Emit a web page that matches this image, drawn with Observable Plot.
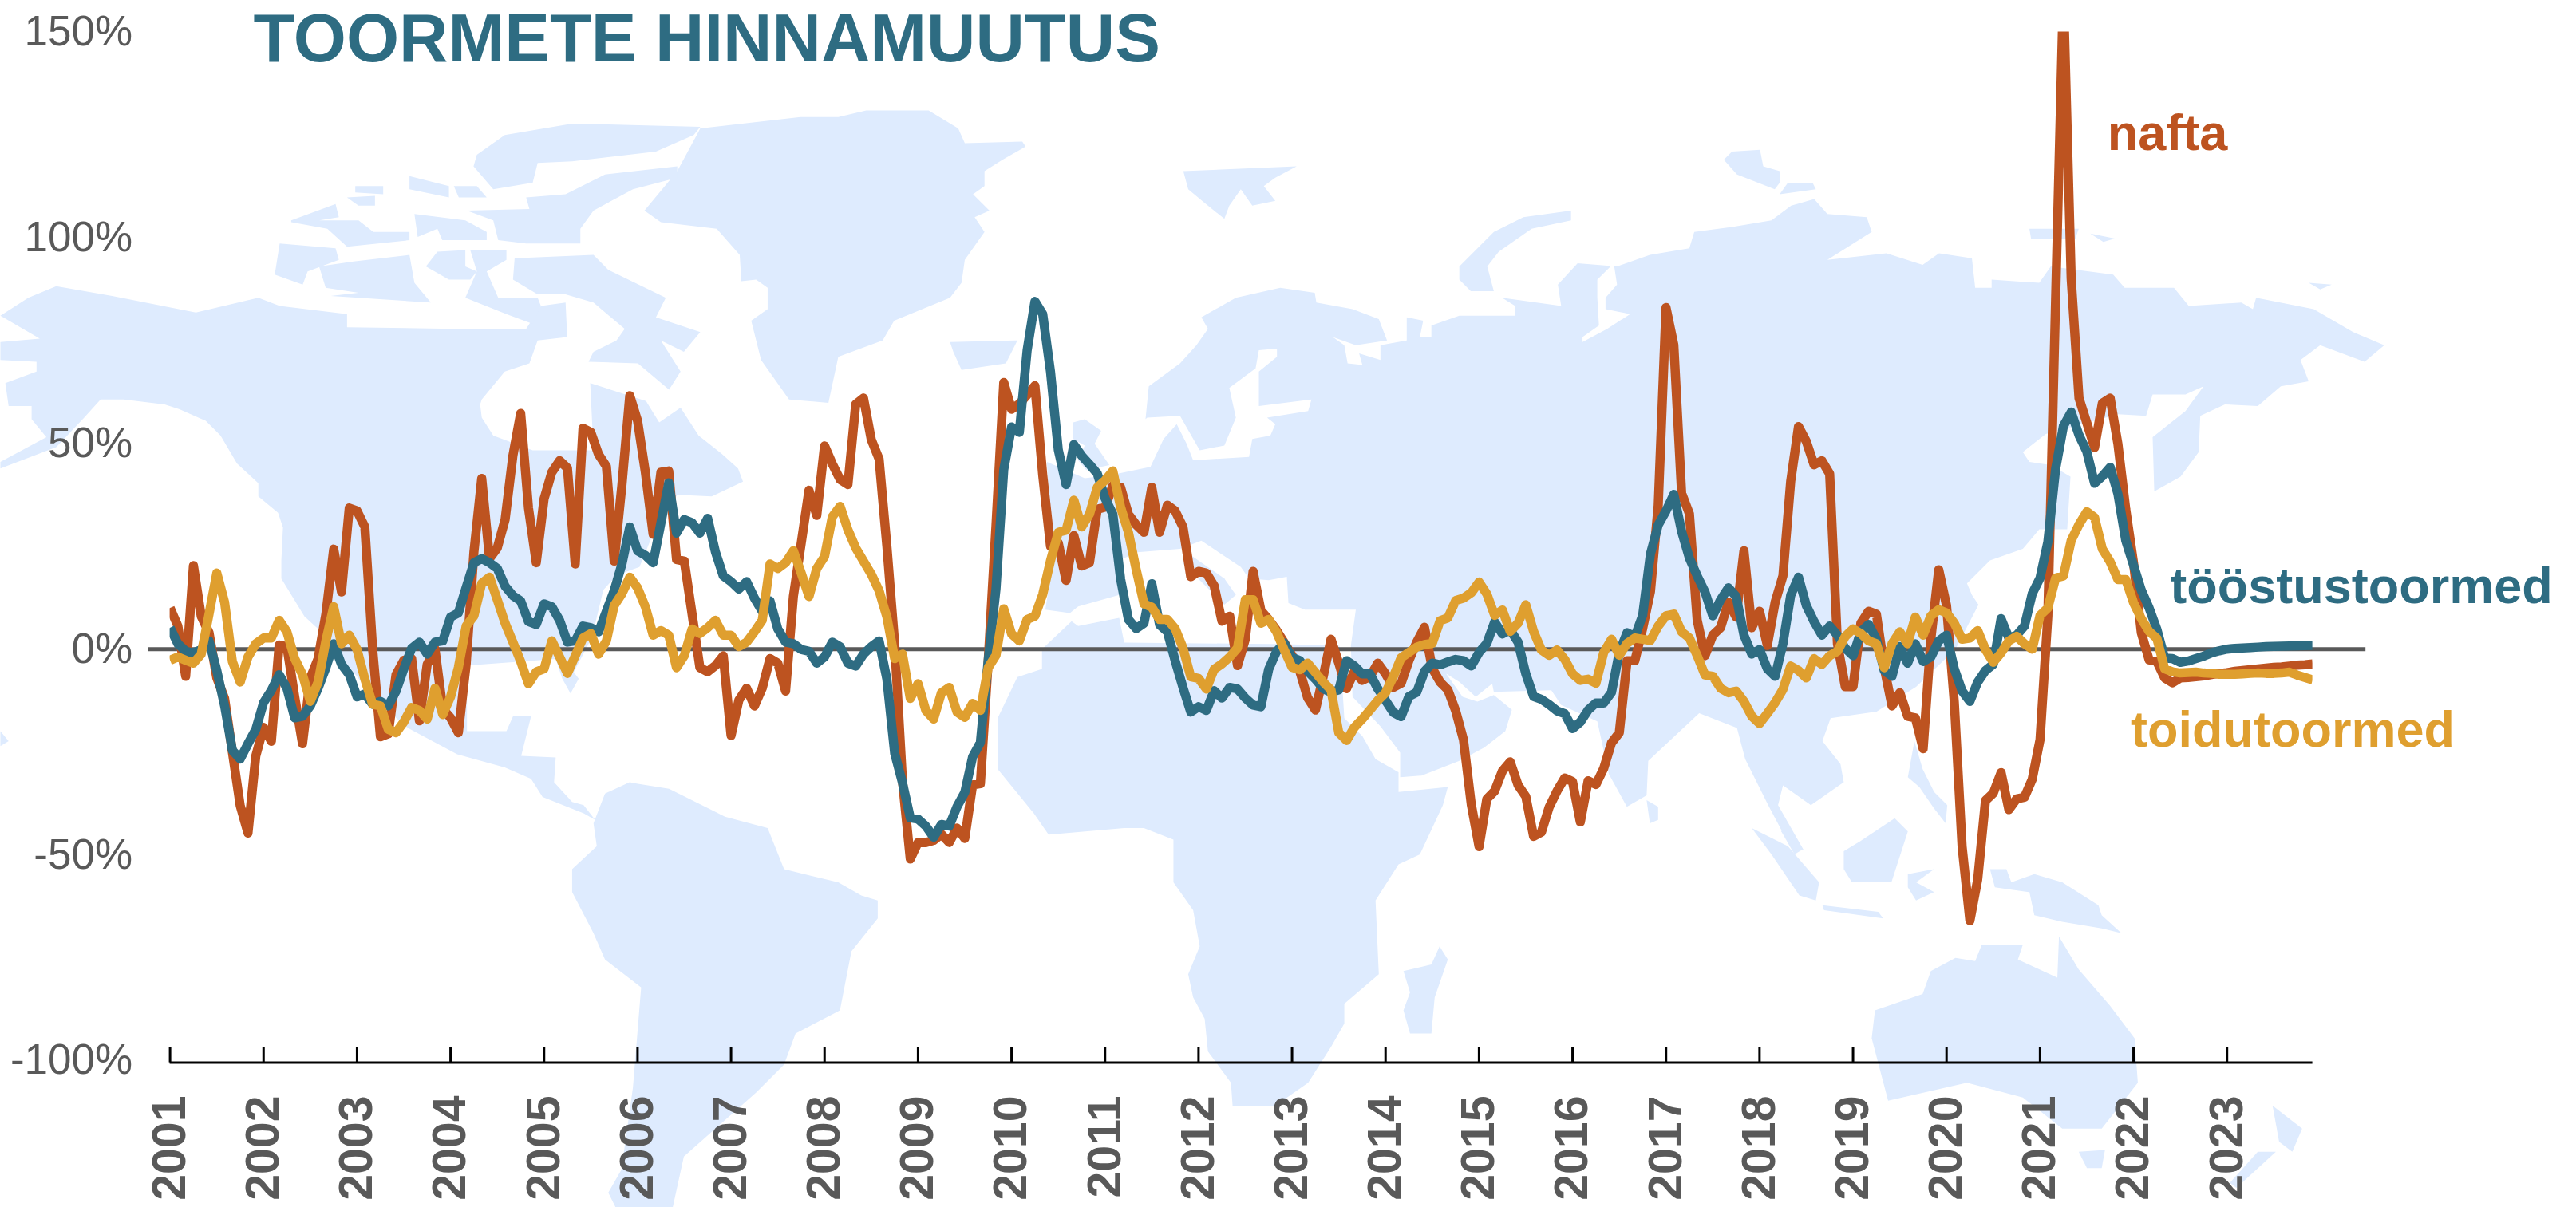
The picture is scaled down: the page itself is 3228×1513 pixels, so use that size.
<!DOCTYPE html>
<html lang="et">
<head>
<meta charset="utf-8">
<title>Toormete hinnamuutus</title>
<script src="https://cdn.jsdelivr.net/npm/d3@7"></script>
<script src="https://cdn.jsdelivr.net/npm/@observablehq/plot@0.6"></script>
<style>html,body{margin:0;padding:0;background:#fff}</style>
</head>
<body>
<div id="chart"></div>
<script>
const title = "TOORMETE HINNAMUUTUS";
const years = d3.range(2001, 2024);
const yTicks = [-100, -50, 0, 50, 100, 150];

const nafta = [
10,5.6,-6.6,20.3,8,4,-7,-12,-25,-38,-44.7,-26,
-19,-22.4,1,0.6,-11.6,-23,-7,-2.3,8.5,24.3,13.9,34.3,
33.6,29.7,0,-21.3,-20.6,-6.2,-2.7,-2.3,-17.4,-3.7,0,-14.5,
-16.7,-20.3,-3.7,23.6,41.5,22,24.6,31.5,47,57.3,34.3,21,
36.5,43,45.8,44,20.7,53.7,52.7,47.3,44.4,21.4,40,61.6,
55.5,43,27.9,43,43.3,21.8,21.4,8.5,-4.5,-5.5,-4,-1.6,
-21,-12.4,-9.5,-13.8,-9.5,-2.3,-3.4,-10.2,12.8,25.7,38.6,32.5,
49.4,45,41.2,40,59.5,61,50.9,46.2,25,1.3,-32,-51,
-47,-47,-46.5,-45,-47,-43.5,-46,-33,-32.7,-3,30,64.8,
58.3,59.6,61.8,64,42.3,25,25.8,16.7,27.6,20.2,21,34,
34.5,39.7,39.3,32.8,30.2,28.4,39.3,28.4,35,33.6,29.7,17.6,
18.9,18.5,15.4,6.8,8,-4,2.4,18.9,9.4,7.2,4.6,1.6,
-1.5,-5.4,-11.8,-14.8,-6.7,2.4,-3.4,-9.6,-5.4,-7.6,-6.7,-3.4,
-6,-9.3,-8.3,-2.8,1.7,5.3,-4.7,-8,-9.9,-15,-22,-37.7,
-48,-36.4,-34.5,-29.6,-27.4,-33,-35.8,-45.5,-44.5,-38.4,-34.5,-31.3,
-32.2,-42,-32,-32.9,-29,-22.8,-20.3,-2.8,-2.8,5,14,35,
83,73.9,37.9,32.9,7,-1.6,3.4,5.2,11.4,7.8,23.9,5.2,
9.2,0.9,11.4,17.8,40.8,54.1,50.5,44.8,45.8,42.6,1.3,-9.1,
-9.1,6.3,9.2,8.5,-4.5,-13.8,-10.6,-16.3,-16.7,-24.2,2.7,19.3,
10.6,-13,-48,-66,-56,-36.8,-35,-30,-39,-36.4,-36,-31.6,
-22,8,85,160,90,61,55,49,59.8,61,49.8,34,
21,4,-2.6,-3,-7,-8.2,-7,-6.9,-6.7,-6.5,-6.2,-5.9,
-5.7,-5.4,-5.2,-5,-4.8,-4.6,-4.4,-4.3,-4.1,-3.9,-3.8,-3.6];

const toostus = [
5.2,1.3,-0.5,-0.9,-0.1,2,-5.2,-13.8,-24.6,-26.7,-23,-19.5,
-13,-10,-6.2,-9.5,-16.7,-16.3,-13.8,-9.5,-4.5,1.3,-3.7,-6.2,
-11.6,-10.9,-13.4,-12.7,-13.8,-10.2,-4.8,0.2,1.7,-1.2,1.7,2,
7.8,8.8,15,21,22,21,19.6,15.3,13,11.7,6.7,6,
11,10.3,7,1.7,2,5.6,5.2,4.2,9.2,14.2,20.7,29.7,
23.9,22.8,21,30.7,40.4,28.2,31.5,30.7,28.2,31.8,23.6,17.8,
16.4,14.6,16.4,12.4,9.2,11.7,4.9,1.7,1.3,-0.1,-0.5,-3.4,
-1.9,1.7,0.6,-3.4,-4.1,-1.2,0.6,2,-7.3,-25.3,-32.5,-41,
-41.3,-43,-45.7,-42.6,-43,-38.3,-34.8,-26.2,-22.7,-2.8,14.6,43.6,
54,52.7,72.6,84.5,81.4,67.4,48.4,40,49.7,47,44.9,42.7,
36.7,32.8,17,7.2,5,6.3,15.9,5.9,4.2,-2.8,-9.3,-15.3,
-14,-14.9,-10.1,-11.9,-9.3,-9.7,-11.9,-13.6,-14,-4.9,-0.6,1.5,
-2,-2.8,-5.4,-7.3,-9.6,-10.5,-9.9,-2.8,-4.1,-6,-6,-9.6,
-12.5,-15.4,-16.4,-11.5,-10.5,-5.4,-3.4,-3.8,-3.1,-2.5,-2.8,-4.1,
-0.8,1.4,6.6,3.7,4.7,1.7,-6,-11.5,-12.2,-13.5,-15,-15.7,
-19.3,-17.7,-14.8,-13.1,-13.1,-10.5,-0.8,4,3,8.2,23.1,30.2,
33.6,37.6,28.6,22.1,17.8,13.9,8.1,12,14.9,12.8,3.4,-1.2,
-0.1,-4.8,-6.6,1.3,13.1,17.5,10.6,6.7,3.4,5.6,3.4,0.2,
-1.6,4.2,6,2.4,-5.2,-6.6,0.6,-3.4,1.3,-3,-1.9,2,
3.4,-4.8,-10.2,-12.7,-8,-5.2,-3.7,7.4,2.7,3.4,5.6,13.5,
17.3,26,43.8,54.2,57.6,52,48,40.3,42,44.2,37.7,26.4,
20.4,14.3,10,4.8,-2.2,-2.3,-3.2,-2.9,-2.3,-1.7,-0.9,-0.4,
0,0.2,0.3,0.4,0.5,0.6,0.65,0.7,0.75,0.8,0.85,0.9];

const toit = [
-2.7,-1.9,-2.7,-3.4,-1.2,8.5,18.5,11.4,-3,-8,-1.9,1.3,
2.7,2.7,7,4.2,-2.3,-6.2,-12.7,-8,2,10.3,1.3,3.4,
-0.1,-7.3,-13.4,-13.8,-19.5,-20.3,-17.7,-14.2,-14.9,-17,-9.5,-15.9,
-11.6,-4.5,5.6,8.1,16,17.5,12,6.3,1.7,-3,-8.4,-5.5,
-4.8,2,-1.9,-5.9,-1.6,2.7,3.8,-1.2,2,10.6,13.5,17.5,
14.9,10.3,3.4,4.5,3.4,-4.5,-1.6,4.9,3.8,5.2,7,3.4,
3.4,0.6,1.7,4.2,7,20.7,19.6,21,23.9,18.5,12.8,19.6,
22.5,32.2,34.7,29,24.6,21.4,18.2,14.2,7.8,-2.3,-1.2,-12,
-8.4,-14.9,-17,-10.6,-9.3,-15.3,-16.6,-13.2,-14.9,-4.5,-1.5,9.8,
3.7,2,7.2,8,13.3,21.5,28.4,28.9,36.2,29.7,32.8,39.3,
41,43.3,34.5,28.4,19.3,11,10.2,7.2,7.2,5,0.3,-6.7,
-7.1,-9.7,-4.9,-3.6,-1.9,0.3,12,12,6.3,7.2,4.2,-0.2,
-4.4,-5,-3.4,-5.7,-8,-9.9,-20.3,-22.2,-19,-17,-14.8,-12.5,
-10.6,-6.7,-2.1,-0.8,0.5,1.1,1.4,6.9,7.6,11.8,12.4,13.7,
16.3,13.4,8.2,9.5,4.3,6.3,10.8,4.3,-0.2,-1.5,-0.2,-2.5,
-6,-7.6,-7.3,-8.3,-0.8,2.4,-1.5,1.4,2.7,2.4,2.1,5.6,
8.1,8.5,4.2,2.7,-1.6,-6.3,-6.6,-9.5,-10.6,-10.2,-12.7,-16.3,
-18.1,-15.6,-13,-9.8,-4.1,-5.2,-7,-2.3,-3.7,-1.6,-0.5,3.1,
4.9,3.8,2,1.3,-4.5,1.3,4.2,1.3,7.8,3.4,8.1,9.6,
8.8,6.3,2.4,2.7,4.5,-0.1,-3.2,-0.9,2,3.1,1.3,0,
8.2,10,17.3,17.8,26.4,30.3,33.4,32,24.3,21.2,16.9,16.9,
11.3,7.4,4.3,2.6,-4.8,-5.5,-5.8,-5.7,-5.6,-5.8,-5.9,-6.1,
-6.1,-6.1,-6,-5.9,-5.8,-5.9,-5.9,-5.8,-5.6,-6.3,-6.9,-7.5];

// Background world map outlines, traced on a 1568 x 735 grid
const namerica = [[0,192],[17,181],[34,174],[68,180],[119,190],[157,181],[170,186],[211,191],[211,199],[276,200],[320,200],[329,186],[344,184],[345,205],[327,207],[322,221],[307,226],[293,243],[292,246],[293,254],[300,265],[324,274],[361,274],[359,233],[393,244],[401,257],[414,248],[425,265],[439,276],[449,285],[452,293],[433,302],[412,301],[400,318],[389,345],[375,350],[367,359],[360,388],[349,409],[352,413],[347,422],[342,413],[338,401],[284,405],[284,445],[308,445],[312,436],[323,436],[317,460],[338,461],[337,476],[348,488],[355,490],[362,499],[355,495],[330,485],[323,474],[307,467],[278,459],[248,443],[229,427],[197,386],[185,375],[171,352],[171,341],[172,321],[169,312],[157,302],[157,294],[144,282],[134,265],[125,256],[109,249],[100,246],[75,243],[61,243],[51,254],[34,272],[0,285],[0,281],[28,266],[19,255],[19,247],[5,247],[3,233],[22,226],[22,220],[0,219],[0,208],[24,206]];
const samerica = [[361,501],[368,483],[383,476],[388,477],[407,480],[441,497],[467,504],[477,529],[510,537],[524,545],[534,548],[534,559],[518,579],[511,615],[484,629],[477,648],[460,665],[416,704],[409,736],[375,736],[370,726],[378,712],[385,662],[390,601],[368,584],[361,568],[348,543],[348,529],[363,515]];
const greenland = [[392,128],[412,104],[426,78],[487,71],[510,71],[527,67],[565,67],[583,78],[587,87],[622,86],[624,89],[610,97],[599,104],[599,113],[592,118],[602,128],[593,132],[599,141],[587,158],[585,172],[578,181],[544,195],[537,207],[510,217],[504,245],[480,243],[463,219],[457,195],[467,188],[467,175],[460,170],[451,171],[450,155],[436,139],[402,135]];
const baffin = [[313,157],[361,155],[370,164],[405,181],[399,193],[426,202],[416,214],[402,207],[414,226],[407,237],[388,221],[358,220],[361,214],[375,207],[380,200],[361,184],[344,179],[327,179],[312,170]];
const ellesmere = [[290,94],[307,82],[348,75],[426,77],[422,82],[399,92],[348,98],[327,99],[324,111],[300,115],[288,101]];
const devon = [[368,106],[412,101],[412,108],[385,115],[361,128],[353,139],[353,148],[320,148],[303,146],[300,134],[284,128],[322,127],[320,120],[344,118]];
const arcticA = [[249,107],[273,113],[273,120],[249,115]];
const arcticB = [[276,113],[290,113],[296,120],[279,120]];
const arcticC = [[216,113],[233,113],[233,118],[216,117]];
const arcticD = [[211,120],[228,119],[228,125],[218,125]];
const arcticE = [[177,134],[204,124],[206,132],[194,134],[218,134],[227,141],[249,141],[249,146],[211,150],[199,139],[177,135]];
const arcticF = [[252,130],[283,134],[296,141],[296,146],[269,146],[266,139],[254,144]];
const banks = [[170,148],[204,151],[206,158],[187,165],[184,173],[167,167]];
const victoria = [[194,162],[215,159],[249,155],[252,172],[262,184],[218,181],[201,180],[218,178],[198,175]];
const arcticG = [[266,153],[283,152],[283,162],[290,165],[286,170],[273,170],[259,162]];
const arcticH = [[286,152],[308,152],[308,158],[296,165],[303,181],[327,181],[329,186],[324,197],[308,191],[283,181],[290,165]];
const iceland = [[578,208],[619,207],[612,221],[585,225],[580,214]];
const britain = [[653,257],[660,255],[670,262],[666,270],[675,283],[661,286],[656,280],[660,271],[653,267]];
const svalbard = [[720,104],[789,101],[776,108],[769,113],[776,122],[762,125],[755,115],[748,125],[745,133],[735,125],[723,115]];
const novaya = [[956,128],[956,134],[932,139],[912,153],[905,162],[909,177],[895,177],[888,170],[888,162],[909,141],[927,132]];
const severnaya = [[1049,97],[1054,92],[1071,91],[1073,101],[1083,104],[1083,111],[1080,115],[1057,106]];
const severnayaB = [[1088,111],[1103,111],[1105,115],[1083,118]];
const siberianA = [[1235,139],[1265,139],[1263,145],[1236,145]];
const siberianB = [[1272,142],[1287,145],[1280,147]];
const wrangel = [[1405,172],[1419,173],[1412,176]];
const eurasia = [[637,281],[660,291],[676,289],[700,284],[708,267],[716,258],[722,270],[726,280],[760,278],[762,267],[773,265],[776,258],[771,254],[796,250],[798,243],[766,247],[766,226],[777,217],[777,212],[766,213],[764,224],[748,236],[752,254],[745,271],[730,274],[718,253],[698,254],[697,255],[699,235],[718,221],[728,210],[735,200],[731,193],[752,181],[779,175],[800,178],[801,184],[823,188],[839,194],[844,207],[825,210],[811,205],[818,210],[820,221],[829,222],[827,215],[840,219],[840,210],[856,207],[856,193],[866,195],[864,205],[871,205],[871,198],[888,192],[922,192],[922,186],[914,181],[950,186],[948,173],[960,160],[984,162],[1004,155],[1028,151],[1031,141],[1054,138],[1078,134],[1090,125],[1104,121],[1112,130],[1136,132],[1139,141],[1112,158],[1148,154],[1170,161],[1180,154],[1200,157],[1202,175],[1212,175],[1212,170],[1241,172],[1248,162],[1286,167],[1293,175],[1323,175],[1332,186],[1364,184],[1371,188],[1373,181],[1408,188],[1432,202],[1451,210],[1439,220],[1412,210],[1400,219],[1405,232],[1388,235],[1374,247],[1354,246],[1339,253],[1338,275],[1327,290],[1311,299],[1310,266],[1330,250],[1341,235],[1330,240],[1310,240],[1306,253],[1289,252],[1245,264],[1231,275],[1235,281],[1248,283],[1260,290],[1258,322],[1241,322],[1231,334],[1211,341],[1197,355],[1200,362],[1204,368],[1190,395],[1166,418],[1142,433],[1114,437],[1109,451],[1120,465],[1122,476],[1102,490],[1085,478],[1082,490],[1098,518],[1085,507],[1076,490],[1062,462],[1057,443],[1034,434],[1003,463],[1002,484],[990,491],[979,471],[972,439],[950,429],[944,420],[909,421],[908,416],[898,424],[888,415],[880,410],[890,424],[899,427],[909,423],[920,432],[916,445],[903,455],[888,463],[865,472],[852,473],[852,458],[840,442],[823,424],[822,393],[825,371],[794,371],[784,367],[783,351],[772,353],[760,352],[755,345],[731,329],[718,334],[692,336],[681,341],[681,362],[656,369],[651,373],[636,371],[639,352],[640,345]];
const obGulf = [[972,170],[982,160],[984,173],[977,181],[977,188],[992,191],[978,200],[963,208],[963,205],[973,198],[972,181]];
const italy = [[722,336],[745,352],[752,362],[745,368],[735,358],[720,343]];
const africa = [[634,395],[634,407],[619,412],[607,437],[607,468],[629,495],[638,508],[684,504],[696,504],[714,511],[714,537],[726,554],[730,576],[723,593],[726,607],[733,620],[735,640],[749,659],[750,673],[776,673],[796,659],[810,637],[818,623],[818,611],[839,593],[837,548],[851,526],[864,520],[878,490],[881,479],[851,482],[851,470],[837,462],[829,448],[818,437],[817,421],[815,393],[783,392],[684,391],[681,376],[656,381],[652,378]];
const madagascar = [[854,591],[871,587],[876,576],[881,584],[873,607],[871,629],[858,629],[854,615],[858,604]];
const srilanka = [[1002,487],[1009,491],[1009,499],[1004,501]];
const sumatra = [[1066,504],[1088,515],[1107,537],[1105,548],[1095,545],[1078,520]];
const malaya = [[1085,498],[1097,517],[1092,520],[1084,506]];
const borneo = [[1122,518],[1132,512],[1153,498],[1161,506],[1151,537],[1127,537],[1122,529]];
const sulawesi = [[1161,532],[1177,529],[1166,537],[1177,543],[1166,548],[1161,540]];
const java = [[1109,551],[1143,555],[1146,559],[1110,554]];
const philippines = [[1165,451],[1170,468],[1177,482],[1185,490],[1184,501],[1177,492],[1168,479],[1161,473]];
const papua = [[1211,529],[1221,529],[1224,537],[1238,532],[1255,537],[1277,551],[1279,557],[1291,568],[1279,565],[1255,561],[1238,557],[1235,543],[1214,540]];
const australia = [[1206,575],[1231,575],[1228,584],[1252,595],[1253,570],[1265,590],[1284,612],[1299,632],[1301,659],[1279,687],[1255,687],[1231,668],[1197,659],[1149,670],[1139,632],[1141,615],[1170,605],[1175,591],[1190,583],[1202,585]];
const tasmania = [[1265,701],[1281,700],[1279,711],[1270,711]];
const nzNorth = [[1383,673],[1401,687],[1395,701],[1387,695]];
const nzSouth = [[1374,701],[1385,701],[1361,723],[1357,720]];
const hawaii = [[0,445],[5,451],[0,454]];

const landParts = [namerica,samerica,greenland,baffin,ellesmere,devon,arcticA,arcticB,arcticC,arcticD,arcticE,arcticF,banks,victoria,arcticG,arcticH,iceland,britain,svalbard,novaya,severnaya,severnayaB,siberianA,siberianB,wrangel,eurasia,italy,africa,madagascar,srilanka,sumatra,malaya,borneo,sulawesi,java,philippines,papua,australia,tasmania,nzNorth,nzSouth,hawaii];
const waterParts = [obGulf];

const seriesColors = {nafta: "#BD5320", toostus: "#2E6C82", toit: "#DF9F2F"};
const labels = [
  {text: "nafta", x: 2021.72, y: 121.4, c: seriesColors.nafta},
  {text: "tööstustoormed", x: 2022.39, y: 11.17, c: seriesColors.toostus},
  {text: "toidutoormed", x: 2021.97, y: -23.8, c: seriesColors.toit}
];

const START = 2001, END = 2023 + 11 / 12;
const t = i => START + i / 12;
const pts = a => a.map((v, i) => ({x: t(i), y: v}));
// map grid -> chart units
const mapX = u => START + (u * 2.0587 - 212.6) / 117.16;
const mapY = v => (813.2 - v * 2.0587) / 5.158;
const flat = parts => parts.flatMap((p, k) => p.map(([u, v]) => ({x: mapX(u), y: mapY(v), k})));

const font = '"Liberation Sans", Arial, sans-serif';
const lineStyle = {x: "x", y: "y", strokeWidth: 11.5, strokeLinejoin: "round", strokeLinecap: "butt", clip: true};
const chart = Plot.plot({
  width: 3228,
  height: 1513,
  marginLeft: 212.6,
  marginRight: 3228 - 2897.6,
  marginTop: 39.5,
  marginBottom: 1513 - 1329,
  x: {domain: [START, END]},
  y: {domain: [-100, 150]},
  style: {fontFamily: font, background: "#fff", overflow: "visible"},
  marks: [
    Plot.line(flat(landParts), {x: "x", y: "y", z: "k", fill: "#DEEBFE", stroke: "none"}),
    Plot.line(flat(waterParts), {x: "x", y: "y", z: "k", fill: "#fff", stroke: "none"}),
    Plot.ruleY([0], {x1: 2000.773, x2: 2024.485, stroke: "#595959", strokeWidth: 5}),
    Plot.ruleY([-100.5], {x1: START, x2: END, stroke: "#000", strokeWidth: 3}),
    Plot.ruleX(years, {y1: -100.5, y2: -96.7, stroke: "#000", strokeWidth: 3}),
    Plot.axisY({ticks: yTicks, tickFormat: d => d + "%", tickSize: 0, tickPadding: 47, fontSize: 53, color: "#595959", label: null}),
    Plot.axisX({ticks: years, tickFormat: d => String(d), tickSize: 0, tickPadding: 44, tickRotate: -90, fontSize: 59, fontWeight: "bold", color: "#595959", label: null}),
    Plot.line(pts(nafta), {...lineStyle, stroke: seriesColors.nafta}),
    Plot.line(pts(toostus), {...lineStyle, stroke: seriesColors.toostus}),
    Plot.line(pts(toit), {...lineStyle, stroke: seriesColors.toit}),
    Plot.text(labels, {x: "x", y: "y", text: "text", fill: "c", fontSize: 63, fontWeight: "bold", textAnchor: "start", lineAnchor: "bottom"}),
    Plot.text([title], {x: 2001.89, y: 142.8, text: d => d, fill: seriesColors.toostus, fontSize: 85, fontWeight: "bold", textAnchor: "start", lineAnchor: "bottom"})
  ]
});
document.getElementById("chart").append(chart);
</script>
</body>
</html>
